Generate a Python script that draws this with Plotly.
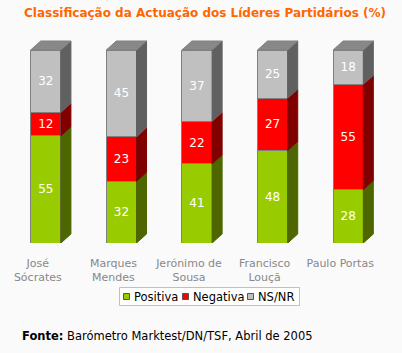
import plotly.graph_objects as go

categories = ["José<br>Sócrates", "Marques<br>Mendes", "Jerónimo de<br>Sousa", "Francisco<br>Louçã", "Paulo Portas"]
positiva = [55, 32, 41, 48, 28]
negativa = [12, 23, 22, 27, 55]
nsnr = [32, 45, 37, 25, 18]

series = [
    ("Positiva", positiva, "#99CC00", "#4D6600"),
    ("Negativa", negativa, "#FF0000", "#800000"),
    ("NS/NR", nsnr, "#C0C0C0", "#606060"),
]

W, H = 402, 353
ml, mr, mt, mb = 8, 16, 40, 110
xs = list(range(len(categories)))
bw = 0.4
plot_w = W - ml - mr
plot_h = H - mt - mb
px_per_x = plot_w / len(categories)
ymax = 100 * plot_h / 193.0
px_per_y = plot_h / ymax
dx = 10 / px_per_x
dy = 9 / px_per_y


def pxx(p):
    return (p - ml) / plot_w


def pxy(p):
    return (H - mb - p) / plot_h


fig = go.Figure()
for name, vals, col, _ in series:
    fig.add_trace(go.Bar(
        x=xs, y=vals, name=name, width=bw,
        marker=dict(color=col, line=dict(color="#808080", width=1)),
        text=[str(v) for v in vals], textposition="inside",
        insidetextanchor="middle",
        textfont=dict(color="white", size=12, family="Verdana, DejaVu Sans"),
        hoverinfo="skip", showlegend=False,
    ))

# 3D side and top faces computed from normalized data
totals = [sum(s[1][i] for s in series) for i in range(len(categories))]
for si, (name, vals, col, side) in enumerate(series):
    px_, py_ = [], []
    for i in range(len(categories)):
        base = sum(series[k][1][i] for k in range(si)) / totals[i] * 100
        top = base + vals[i] / totals[i] * 100
        xr = xs[i] + bw / 2
        px_ += [xr, xr + dx, xr + dx, xr, xr, None]
        py_ += [base, base + dy, top + dy, top, base, None]
    fig.add_trace(go.Scatter(x=px_, y=py_, mode="lines", fill="toself",
                             fillcolor=side, line=dict(color=side, width=1),
                             showlegend=False, hoverinfo="skip"))
tx, ty = [], []
for i in range(len(categories)):
    xl, xr = xs[i] - bw / 2, xs[i] + bw / 2
    tx += [xl, xl + dx, xr + dx, xr, xl, None]
    ty += [100, 100 + dy, 100 + dy, 100, 100, None]
fig.add_trace(go.Scatter(x=tx, y=ty, mode="lines", fill="toself",
                         fillcolor="#888888", line=dict(color="#808080", width=1),
                         showlegend=False, hoverinfo="skip"))

# manual legend
shapes = [dict(type="rect", xref="paper", yref="paper",
               x0=pxx(119.5), x1=pxx(299.5), y0=pxy(305.5), y1=pxy(287.5),
               line=dict(color="#C0C0C0", width=1), fillcolor="#FFFFFF", layer="above")]
annotations = []
sq_x = [123, 182, 247]
for (name, vals, col, side), sx in zip(series, sq_x):
    shapes.append(dict(type="rect", xref="paper", yref="paper",
                       x0=pxx(sx + 0.5), x1=pxx(sx + 6.5), y0=pxy(299.5), y1=pxy(293.5),
                       line=dict(color="#555555", width=1), fillcolor=col, layer="above"))
    annotations.append(dict(text=name, xref="paper", yref="paper",
                            x=pxx(sx + 9), y=pxy(296.5), xanchor="left", yanchor="middle",
                            showarrow=False, font=dict(size=11.5, color="black")))

annotations.append(dict(text="<b>Fonte:</b> Barómetro Marktest/DN/TSF, Abril de 2005",
                        xref="paper", yref="paper", x=pxx(20),
                        y=pxy(336), xanchor="left", yanchor="middle",
                        showarrow=False, font=dict(size=11.5, color="black")))

fig.update_layout(
    width=W, height=H,
    margin=dict(l=ml, r=mr, t=mt, b=mb),
    barmode="stack", barnorm="percent",
    paper_bgcolor="#FAFAFA", plot_bgcolor="#FAFAFA",
    font=dict(family="Verdana, DejaVu Sans", size=11, color="black"),
    title=dict(text="<b>Classificação da Actuação dos Líderes Partidários (%)</b>",
               font=dict(color="#FF6600", size=12, family="Verdana, DejaVu Sans"),
               xref="container", x=205 / W, xanchor="center",
               yref="container", y=1 - 13 / H, yanchor="middle"),
    xaxis=dict(range=[-0.5, len(categories) - 0.5], tickvals=xs, ticktext=categories,
               showgrid=False, zeroline=False, showline=False, ticks="",
               tickfont=dict(color="#888888", size=11), ticklabelshift=-8,
               ticklabelstandoff=12),
    yaxis=dict(range=[0, ymax], visible=False),
    showlegend=False,
    shapes=shapes,
    annotations=annotations,
)

fig.write_html("out.html")
